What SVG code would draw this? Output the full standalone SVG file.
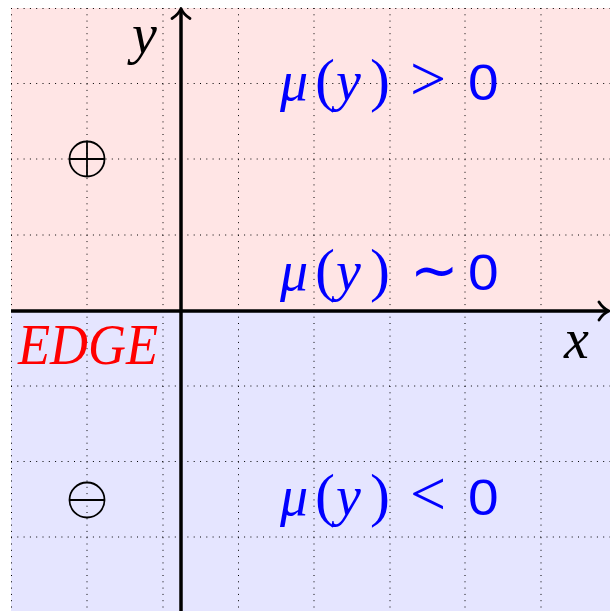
<svg xmlns="http://www.w3.org/2000/svg" width="610" height="611" viewBox="0 0 610 611">
<style>
.grid{stroke:#000;stroke-width:1;stroke-dasharray:1 5.3;fill:none}
.axis{stroke:#000;stroke-width:3.5;fill:none}
.arrow{stroke:#000;stroke-width:2.8;fill:none;stroke-linecap:round;stroke-linejoin:round}
.m{font-family:"Liberation Serif","Times New Roman",serif;font-size:56px}
.i{font-style:italic}
.p{font-size:60px}
.r{font-size:64px}
.t{font-size:58px}
.sf{font-family:"Liberation Sans",Arial,sans-serif;font-size:50px}
.blue{fill:#0000ff}
.sym{stroke:#000;stroke-width:1.8;fill:none}
</style>
<rect x="11" y="8" width="599" height="303" fill="#ffe5e5"/>
<rect x="11" y="311" width="599" height="300" fill="#e5e5ff"/>
<g id="grid">
<path class="grid" d="M11.5 8V611M87 8V611M163 8V611M238.5 8V611M314 8V611M390 8V611M465 8V611M541 8V611"/>
<path class="grid" d="M11 8.5H610M11 83.5H610M11 159H610M11 235H610M11 386H610M11 461.5H610M11 537H610"/>
</g>
<g id="axes">
<path class="axis" d="M181 611V10"/>
<path class="axis" d="M11 311H607"/>
<path class="arrow" d="M172 18.5C176 16 179.5 12 181 8.5C182.5 12 186 16 190 18.5"/>
<path class="arrow" d="M599 302C601.5 306 605.5 309.5 609 311C605.5 312.5 601.5 316 599 320"/>
</g>
<g id="axis-labels">
<text class="m i" x="132" y="53">y</text>
<text class="m i" x="564" y="358">x</text>
</g>
<g id="label-pos">
<text class="m blue" y="100"><tspan class="i" x="280">μ</tspan><tspan class="p" x="315">(</tspan><tspan class="i" x="336">y</tspan><tspan class="p" x="370">)</tspan><tspan class="r" x="410">&gt;</tspan></text>
<text class="sf blue" transform="translate(468,100) scale(1.1,1)">0</text>
</g>
<g id="label-zero">
<text class="m blue" y="290"><tspan class="i" x="280">μ</tspan><tspan class="p" x="315">(</tspan><tspan class="i" x="336">y</tspan><tspan class="p" x="370">)</tspan><tspan class="t" x="410">∼</tspan></text>
<text class="sf blue" transform="translate(468,290) scale(1.1,1)">0</text>
</g>
<g id="label-neg">
<text class="m blue" y="515"><tspan class="i" x="280">μ</tspan><tspan class="p" x="315">(</tspan><tspan class="i" x="336">y</tspan><tspan class="p" x="370">)</tspan><tspan class="r" x="410">&lt;</tspan></text>
<text class="sf blue" transform="translate(468,515) scale(1.1,1)">0</text>
</g>
<g id="edge-label">
<text class="m i" x="18" y="364" font-size="45" fill="#ff0000" textLength="140" lengthAdjust="spacingAndGlyphs">EDGE</text>
</g>
<g id="oplus">
<circle class="sym" cx="87" cy="159" r="17.5"/>
<path class="sym" d="M69.5 159H104.5M87 141.5V176.5"/>
</g>
<g id="ominus">
<circle class="sym" cx="87" cy="500" r="17.5"/>
<path class="sym" d="M69.5 500H104.5"/>
</g>
</svg>
